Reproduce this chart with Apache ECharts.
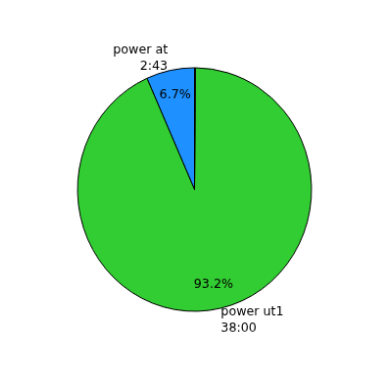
<!DOCTYPE html>
<html>
<head>
<meta charset="utf-8">
<script src="https://cdn.jsdelivr.net/npm/echarts@6/dist/echarts.min.js"></script>
<style>
html,body{margin:0;padding:0;background:#fff;overflow:hidden;}
#chart{width:380px;height:380px;transform-origin:194.5px 189.5px;transform:scale(0.979,1.019);}
</style>
</head>
<body>
<div id="chart"></div>
<script>
// Data
const categories = ['power at', 'power ut1', ''];
const durationLabels = ['2:43', '38:00', ''];
const seconds = [163, 2280, 3];
const colors = ['#1E90FF', '#32CD32', '#808080'];

const total = seconds.reduce((a, b) => a + b, 0);
const R = 119.5;
const center = [194.5, 189.5];
const font = 'DejaVu Sans';

const chart = echarts.init(document.getElementById('chart'), null, { renderer: 'canvas' });
chart.setOption({
  animation: false,
  backgroundColor: '#ffffff',
  series: [
    {
      type: 'pie',
      center: center,
      radius: [0, R],
      startAngle: 90,
      clockwise: false,
      avoidLabelOverlap: false,
      silent: true,
      emphasis: { scale: false },
      itemStyle: { borderColor: '#000', borderWidth: 1 },
      label: {
        show: true,
        position: 'outside',
        distanceToLabelLine: 0,
        color: '#000',
        fontFamily: font,
        fontSize: 12.7,
        lineHeight: 16,
        padding: [4, 0, 0, 0],
        formatter: p => p.name + '\n' + durationLabels[p.dataIndex]
      },
      labelLine: { show: false, length: R * 0.1, length2: 0 },
      data: categories.map((c, i) => ({
        name: c,
        value: seconds[i],
        itemStyle: { color: colors[i] },
        label: { show: c !== '' }
      }))
    },
    {
      type: 'pie',
      center: center,
      radius: [R * 0.545, R],
      startAngle: 90,
      clockwise: false,
      silent: true,
      emphasis: { scale: false },
      itemStyle: { color: 'rgba(0,0,0,0)', borderWidth: 0 },
      label: {
        show: true,
        position: 'inside',
        color: '#000',
        fontFamily: font,
        fontSize: 12.7,
        textBorderWidth: 0,
        formatter: p => (seconds[p.dataIndex] / total * 100).toFixed(1) + '%'
      },
      labelLine: { show: false },
      data: categories.map((c, i) => ({
        name: c,
        value: seconds[i],
        label: { show: c !== '' }
      }))
    }
  ]
});
</script>
</body>
</html>
